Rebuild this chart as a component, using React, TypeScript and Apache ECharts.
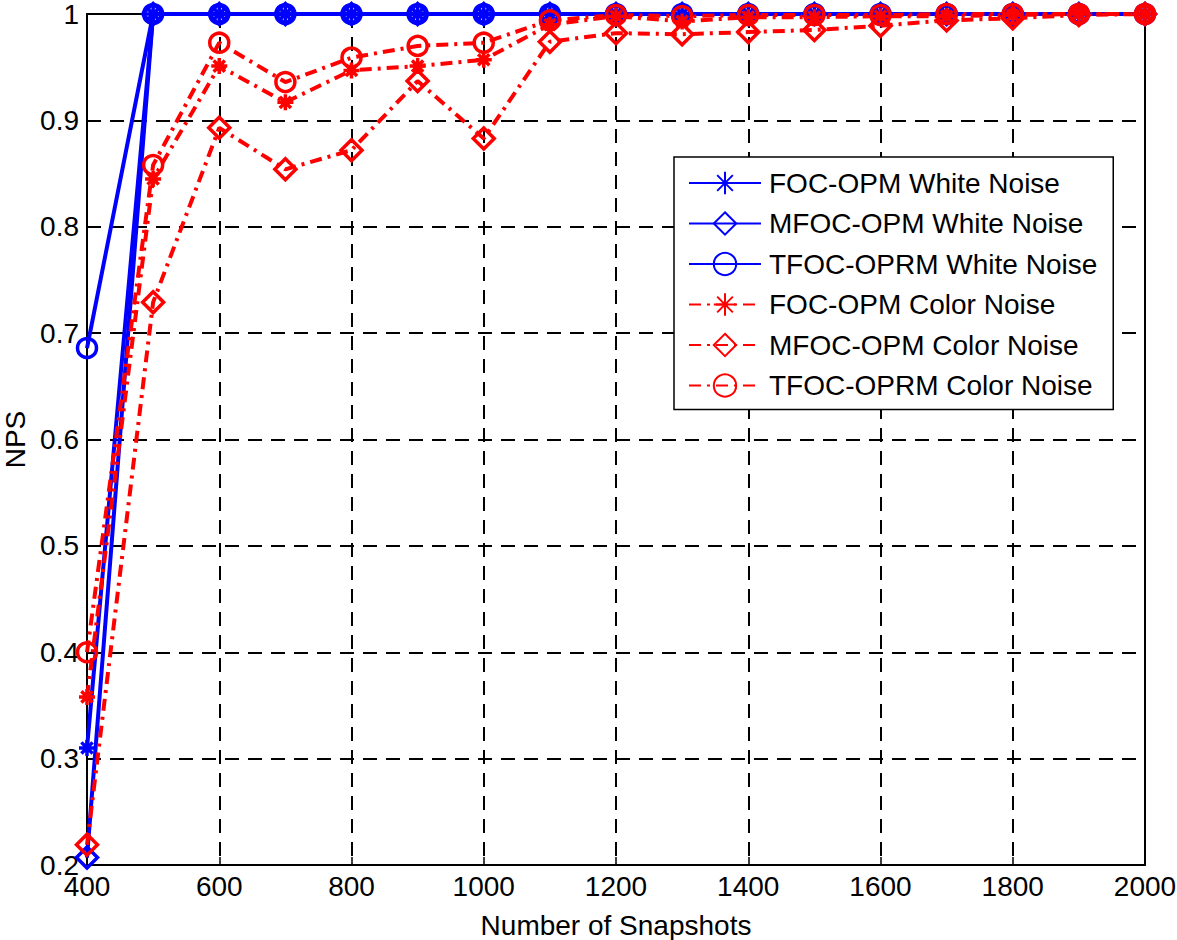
import React, { useEffect, useRef } from "react";
import * as echarts from "echarts";

const snapshots = [400, 500, 600, 700, 800, 900, 1000, 1100, 1200, 1300, 1400, 1500, 1600, 1700, 1800, 1900, 2000];

const focWhite = [0.31, 1, 1, 1, 1, 1, 1, 1, 1, 1, 1, 1, 1, 1, 1, 1, 1];
const mfocWhite = [0.207, 1, 1, 1, 1, 1, 1, 1, 1, 1, 1, 1, 1, 1, 1, 1, 1];
const tfocWhite = [0.686, 1, 1, 1, 1, 1, 1, 1, 1, 1, 1, 1, 1, 1, 1, 1, 1];
const focColor = [0.358, 0.845, 0.951, 0.917, 0.947, 0.951, 0.957, 0.99, 0.998, 0.993, 0.997, 0.997, 0.998, 0.998, 0.999, 1, 1];
const mfocColor = [0.219, 0.729, 0.893, 0.854, 0.872, 0.937, 0.883, 0.974, 0.982, 0.981, 0.983, 0.985, 0.989, 0.994, 0.996, 0.999, 1];
const tfocColor = [0.4, 0.858, 0.973, 0.936, 0.959, 0.97, 0.973, 0.994, 0.999, 0.998, 0.999, 0.999, 0.999, 1, 1, 1, 1];

const seriesNames = [
  "FOC-OPM White Noise",
  "MFOC-OPM White Noise",
  "TFOC-OPRM White Noise",
  "FOC-OPM Color Noise",
  "MFOC-OPM Color Noise",
  "TFOC-OPRM Color Noise",
];

const FONT = "'Liberation Sans', Arial, Helvetica, sans-serif";
const FS = 28;
const STAR = "path://M10,0L10,20M0,10L20,10M3,3L17,17M3,17L17,3";

export default function App() {
  const ref = useRef<HTMLDivElement>(null);
  useEffect(() => {
    if (!ref.current) return;
    const chart = echarts.init(ref.current, undefined, { renderer: "svg" });
    const mk = (name: string, vals: number[], color: string, symbol: string, size: number, dashed: boolean) => ({
      name,
      type: "line",
      data: snapshots.map((x, i) => [x, vals[i]]),
      symbol,
      symbolSize: size,
      showAllSymbol: true,
      lineStyle: { color, width: 4, type: dashed ? [12, 6, 3, 6] : "solid" },
      itemStyle: { color: "rgba(0,0,0,0)", borderColor: color, borderWidth: 3.5 },
      emphasis: { disabled: true },
    });
    const series = [
      mk(seriesNames[0], focWhite, "#0000ff", STAR, 16, false),
      mk(seriesNames[1], mfocWhite, "#0000ff", "diamond", 21, false),
      mk(seriesNames[2], tfocWhite, "#0000ff", "circle", 19, false),
      mk(seriesNames[3], focColor, "#ff0000", STAR, 16, true),
      mk(seriesNames[4], mfocColor, "#ff0000", "diamond", 21, true),
      mk(seriesNames[5], tfocColor, "#ff0000", "circle", 19, true),
    ];
    chart.setOption({
      animation: false,
      backgroundColor: "#ffffff",
      textStyle: { fontFamily: FONT },
      grid: {
        left: 87,
        top: 14,
        width: 1058,
        height: 851,
        containLabel: false,
        outerBoundsMode: "none",
        show: true,
        borderColor: "#000",
        borderWidth: 2,
        backgroundColor: "transparent",
      },
      legend: {
        data: seriesNames,
        orient: "vertical",
        left: 674,
        top: 157,
        padding: [12, 16, 10, 14],
        itemWidth: 72,
        itemHeight: 28,
        itemGap: 12.5,
        backgroundColor: "#ffffff",
        borderColor: "#000",
        borderWidth: 1.5,
        borderRadius: 0,
        selectedMode: false,
        textStyle: { fontFamily: FONT, fontSize: FS, color: "#000", lineHeight: 28, padding: [0, 0, 0, 3] },
      },
      xAxis: {
        type: "value",
        min: 400,
        max: 2000,
        interval: 200,
        name: "Number of Snapshots",
        nameLocation: "middle",
        nameGap: 46,
        nameTextStyle: { fontFamily: FONT, fontSize: FS, color: "#000" },
        axisLine: { show: true, lineStyle: { color: "#000", width: 2 } },
        axisTick: { show: true, inside: true, length: 8, lineStyle: { color: "#000", width: 1.5 } },
        axisLabel: { fontFamily: FONT, fontSize: FS, color: "#000", margin: 7, formatter: (v: number) => String(v) },
        splitLine: { show: true, lineStyle: { color: "#000", width: 2, type: [14, 9] } },
      },
      yAxis: {
        type: "value",
        min: 0.2,
        max: 1,
        interval: 0.1,
        name: "NPS",
        nameLocation: "middle",
        nameGap: 58,
        nameTextStyle: { fontFamily: FONT, fontSize: FS, color: "#000" },
        axisLine: { show: true, lineStyle: { color: "#000", width: 2 } },
        axisTick: { show: true, inside: true, length: 8, lineStyle: { color: "#000", width: 1.5 } },
        axisLabel: {
          fontFamily: FONT,
          fontSize: FS,
          color: "#000",
          margin: 8,
          formatter: (v: number) => (Math.abs(v - 1) < 1e-9 ? "1" : v.toFixed(1)),
        },
        splitLine: { show: true, lineStyle: { color: "#000", width: 2, type: [14, 9] } },
      },
      series,
    });
    return () => chart.dispose();
  }, []);
  return (
    <div
      ref={ref}
      style={{ position: "absolute", left: 0, top: 0, width: 1177, height: 940 }}
    />
  );
}
